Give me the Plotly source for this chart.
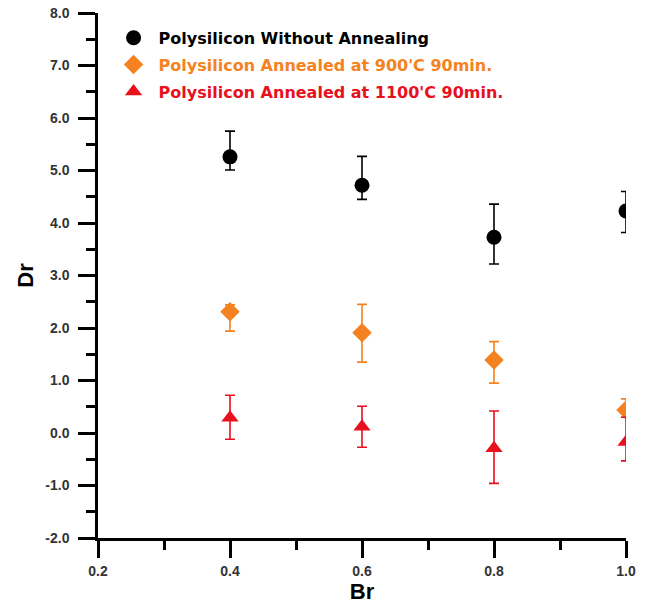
import plotly.graph_objects as go

br = [0.4, 0.6, 0.8, 1.0]

# Polysilicon without annealing
dr_none = [5.26, 4.72, 3.73, 4.23]
err_none_plus = [0.49, 0.55, 0.63, 0.37]
err_none_minus = [0.25, 0.27, 0.51, 0.41]

# Annealed at 900'C
dr_900 = [2.31, 1.91, 1.39, 0.44]
err_900_plus = [0.13, 0.54, 0.35, 0.21]
err_900_minus = [0.37, 0.56, 0.44, 0.14]

# Annealed at 1100'C
dr_1100 = [0.29, 0.12, -0.29, -0.17]
err_1100_plus = [0.43, 0.39, 0.71, 0.47]
err_1100_minus = [0.41, 0.39, 0.67, 0.36]

names = [
    "Polysilicon Without Annealing",
    "Polysilicon Annealed at 900'C 90min.",
    "Polysilicon Annealed at 1100'C 90min.",
]
colors = ["#000000", "#F58220", "#E8101C"]
symbols = ["circle", "diamond", "triangle-up"]

x_ticks = [0.2, 0.4, 0.6, 0.8, 1.0]
x_ticktext = ["0.2", "0.4", "0.6", "0.8", "1.0"]
y_ticks = [-2, -1, 0, 1, 2, 3, 4, 5, 6, 7, 8]
y_ticktext = ["-2.0", "-1.0", "0.0", "1.0", "2.0", "3.0", "4.0", "5.0", "6.0", "7.0", "8.0"]

FONT = "Liberation Sans, Arial, sans-serif"
LEGEND_FONT = "DejaVu Sans, Verdana, sans-serif"

fig = go.Figure()
series = [
    (dr_none, err_none_plus, err_none_minus),
    (dr_900, err_900_plus, err_900_minus),
    (dr_1100, err_1100_plus, err_1100_minus),
]
for i, (ys, ep, em) in enumerate(series):
    fig.add_trace(go.Scatter(
        x=br, y=ys, mode="markers",
        name=f"<span style='color:{colors[i]}'>{names[i]}</span>",
        legendgroup=f"g{i}",
        marker=dict(symbol=symbols[i], size=15, color=colors[i]),
        error_y=dict(type="data", symmetric=False, array=ep, arrayminus=em,
                     color=colors[i], thickness=1.6, width=5),
    ))

fig.update_layout(
    width=645, height=610,
    margin=dict(l=98, r=19, t=13, b=72),
    paper_bgcolor="white", plot_bgcolor="white",
    font=dict(family=FONT, color="#000"),
    showlegend=True,
    legend=dict(x=0.02, y=0.985, xanchor="left", yanchor="top",
                bgcolor="rgba(0,0,0,0)", tracegroupgap=3,
                font=dict(family=LEGEND_FONT, size=16, weight="bold"),
                itemwidth=40),
    xaxis=dict(
        range=[0.2, 1.0], tickvals=x_ticks, ticktext=x_ticktext,
        showgrid=False, zeroline=False, automargin=False,
        showline=True, linecolor="black", linewidth=2.5,
        ticks="outside", ticklen=17, tickwidth=2.5, tickcolor="black",
        minor=dict(dtick=0.1, ticks="outside", ticklen=9, tickwidth=2.5, tickcolor="black"),
        tickfont=dict(family=FONT, size=14, weight="bold", color="#333"),
        ticklabelstandoff=1,
        title=dict(text="Br", font=dict(family=FONT, size=22, weight="bold"), standoff=0),
    ),
    yaxis=dict(
        range=[-2.0, 8.0], tickvals=y_ticks, ticktext=y_ticktext,
        showgrid=False, zeroline=False, automargin=False,
        showline=True, linecolor="black", linewidth=2.5,
        ticks="outside", ticklen=17, tickwidth=2.5, tickcolor="black",
        minor=dict(dtick=0.5, ticks="outside", ticklen=9, tickwidth=2.5, tickcolor="black"),
        tickfont=dict(family=FONT, size=14, weight="bold", color="#333"),
        ticklabelstandoff=6,
        title=dict(text="Dr", font=dict(family=FONT, size=22, weight="bold"), standoff=6),
    ),
)

fig.write_html("out.html")
